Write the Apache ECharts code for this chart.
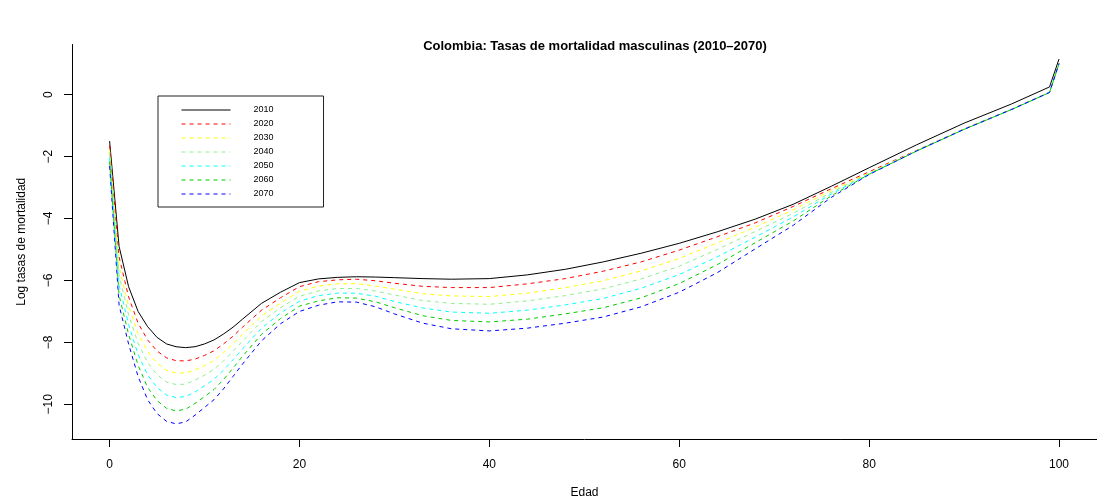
<!DOCTYPE html>
<html>
<head>
<meta charset="utf-8">
<script src="https://cdn.jsdelivr.net/npm/echarts@6/dist/echarts.min.js"></script>
<style>
  html, body { margin: 0; padding: 0; background: #fff; }
  #chart { width: 1097px; height: 504px; }
</style>
</head>
<body>
<div id="chart"></div>
<script>
const ages = [0, 1, 2, 3, 4, 5, 6, 7, 8, 9, 10, 11, 12, 13, 14, 16, 18, 20, 22, 24, 26, 28, 30, 33, 36,
  40, 44, 48, 52, 56, 60, 64, 68, 72, 76, 80, 85, 90, 95, 99, 100]

const years = ['2010', '2020', '2030', '2040', '2050', '2060', '2070']
const colors = ['#000000', '#ff0000', '#ffff00', '#90ee90', '#00ffff', '#00cd00', '#0000ff']

const y2010 = [-1.50, -4.90, -6.20, -7.00, -7.49, -7.84, -8.05, -8.14, -8.17, -8.14, -8.05, -7.92, -7.73, -7.51, -7.25,
  -6.74, -6.38, -6.07, -5.95, -5.90, -5.88, -5.89, -5.91, -5.94, -5.96,
  -5.94, -5.82, -5.64, -5.40, -5.12, -4.80, -4.43, -4.02, -3.54, -2.96, -2.36, -1.62, -0.92, -0.30, 0.25, 1.15]
const y2020 = [-1.64, -5.24, -6.53, -7.38, -7.92, -8.28, -8.50, -8.59, -8.60, -8.54, -8.42, -8.27, -8.05, -7.80, -7.51,
  -6.96, -6.56, -6.20, -6.04, -5.98, -5.96, -6.01, -6.09, -6.19, -6.23,
  -6.23, -6.11, -5.94, -5.70, -5.40, -5.02, -4.59, -4.14, -3.61, -3.04, -2.49, -1.80, -1.11, -0.47, 0.08, 1.02]
const y2030 = [-1.77, -5.55, -6.83, -7.71, -8.29, -8.68, -8.90, -8.99, -8.99, -8.89, -8.75, -8.58, -8.33, -8.05, -7.74,
  -7.15, -6.73, -6.35, -6.18, -6.11, -6.10, -6.18, -6.28, -6.43, -6.50,
  -6.52, -6.41, -6.23, -6.01, -5.69, -5.29, -4.79, -4.28, -3.72, -3.10, -2.53, -1.81, -1.12, -0.48, 0.07, 1.01]
const y2040 = [-1.89, -5.83, -7.11, -8.03, -8.65, -9.05, -9.28, -9.36, -9.35, -9.22, -9.06, -8.87, -8.60, -8.29, -7.96,
  -7.33, -6.88, -6.51, -6.34, -6.26, -6.26, -6.34, -6.47, -6.65, -6.74,
  -6.77, -6.66, -6.49, -6.27, -5.95, -5.54, -5.00, -4.42, -3.83, -3.16, -2.55, -1.81, -1.12, -0.48, 0.07, 1.00]
const y2050 = [-2.03, -6.15, -7.42, -8.39, -9.05, -9.46, -9.70, -9.78, -9.75, -9.60, -9.40, -9.19, -8.90, -8.56, -8.21,
  -7.54, -7.05, -6.67, -6.49, -6.41, -6.41, -6.51, -6.68, -6.89, -7.02,
  -7.06, -6.96, -6.79, -6.58, -6.25, -5.81, -5.24, -4.60, -3.95, -3.21, -2.56, -1.82, -1.12, -0.48, 0.07, 1.00]
const y2060 = [-2.16, -6.48, -7.74, -8.74, -9.45, -9.88, -10.13, -10.21, -10.16, -9.97, -9.75, -9.52, -9.20, -8.83, -8.45,
  -7.74, -7.23, -6.83, -6.66, -6.56, -6.57, -6.69, -6.88, -7.14, -7.29,
  -7.34, -7.25, -7.08, -6.88, -6.56, -6.10, -5.49, -4.78, -4.08, -3.27, -2.57, -1.82, -1.12, -0.48, 0.07, 1.00]
const y2070 = [-2.30, -6.80, -8.05, -9.10, -9.85, -10.30, -10.55, -10.63, -10.57, -10.35, -10.10, -9.85, -9.50, -9.10, -8.70,
  -7.95, -7.40, -7.00, -6.80, -6.69, -6.70, -6.85, -7.08, -7.38, -7.56,
  -7.63, -7.54, -7.38, -7.18, -6.85, -6.38, -5.75, -4.98, -4.22, -3.32, -2.58, -1.82, -1.12, -0.48, 0.07, 1.00]

const xTicks = [0, 20, 40, 60, 80, 100]
const yTicks = [-10, -8, -6, -4, -2, 0]

const seriesValues = [y2010, y2020, y2030, y2040, y2050, y2060, y2070]

const font = 'Liberation Sans, Arial, Helvetica, sans-serif'
const chart = echarts.init(document.getElementById('chart'))

const series = years.map((yr, i) => ({
  name: yr,
  type: 'line',
  data: ages.map((a, j) => [a, seriesValues[i][j]]),
  symbol: 'none',
  smooth: false,
  lineStyle: {
    color: colors[i],
    width: 1,
    type: i === 0 ? 'solid' : [4, 4]
  },
  itemStyle: { color: colors[i] },
  emphasis: { disabled: true }
}))

chart.setOption({
  animation: false,
  backgroundColor: '#fff',
  textStyle: { fontFamily: font },
  title: {
    text: 'Colombia: Tasas de mortalidad masculinas (2010\u20132070)',
    left: 590,
    textAlign: 'center',
    top: 35,
    textStyle: { fontFamily: font, fontSize: 13, fontWeight: 'bold', color: '#000' }
  },
  legend: {
    orient: 'vertical',
    left: 158,
    top: 96,
    padding: [9, 50, 8, 23],
    itemWidth: 49,
    itemHeight: 10,
    itemGap: 4,
    borderColor: '#222',
    borderWidth: 1,
    borderRadius: 0,
    data: years,
    itemStyle: { color: 'transparent', borderWidth: 0, opacity: 0 },
    lineStyle: { width: 1 },
    textStyle: { fontFamily: font, fontSize: 9, color: '#000', lineHeight: 10, padding: [0, 0, 0, 18] }
  },
  grid: { left: 72, right: -10, top: 44.5, bottom: 62 },
  xAxis: {
    type: 'value',
    min: -3.96,
    max: 104,
    name: 'Edad',
    nameLocation: 'middle',
    nameGap: 48,
    nameTextStyle: { fontFamily: font, fontSize: 12, color: '#000' },
    axisLine: { show: true, onZero: false, lineStyle: { color: '#000', width: 1 } },
    axisTick: { show: true, length: 8, lineStyle: { color: '#000' }, customValues: xTicks },
    axisLabel: { color: '#000', fontSize: 12, margin: 20, customValues: xTicks },
    splitLine: { show: false }
  },
  yAxis: {
    type: 'value',
    min: -11.12,
    max: 1.62,
    name: 'Log tasas de mortalidad',
    nameLocation: 'middle',
    nameRotate: 90,
    nameGap: 44,
    nameTextStyle: { fontFamily: font, fontSize: 12, color: '#000' },
    axisLine: { show: true, onZero: false, lineStyle: { color: '#000', width: 1 } },
    axisTick: { show: true, length: 8, lineStyle: { color: '#000' }, customValues: yTicks },
    axisLabel: {
      color: '#000',
      fontSize: 12,
      margin: 17,
      rotate: 90,
      customValues: yTicks,
      formatter: (v) => String(v).replace('-', '\u2212')
    },
    splitLine: { show: false }
  },
  series
})
</script>
</body>
</html>
